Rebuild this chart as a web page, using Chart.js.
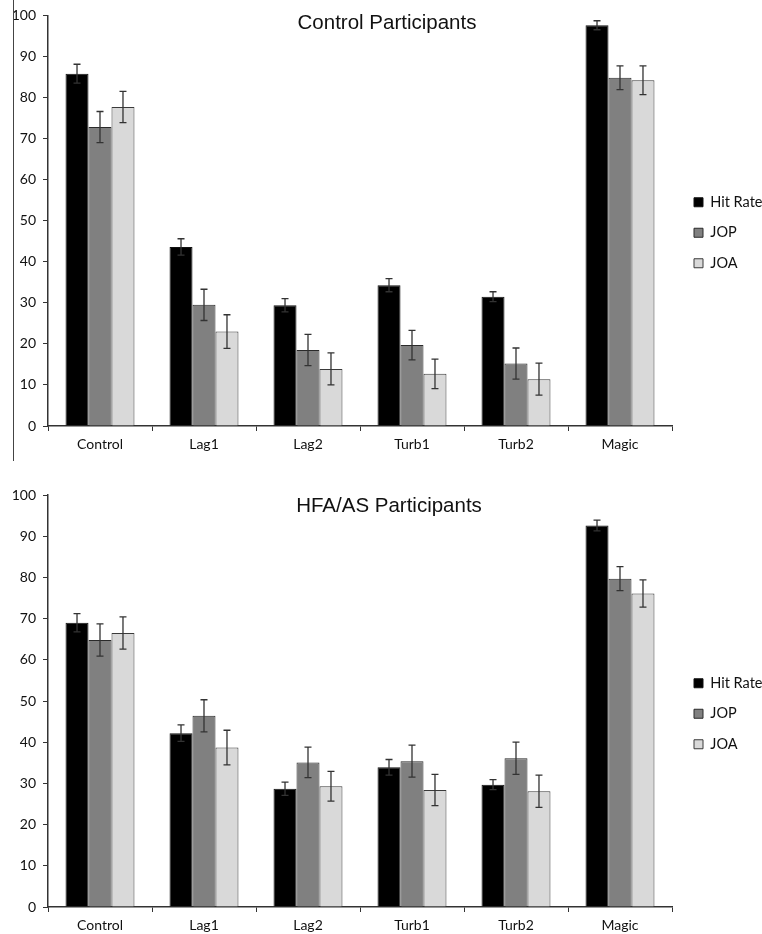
<!DOCTYPE html>
<html><head><meta charset="utf-8">
<script src="https://cdn.jsdelivr.net/npm/chart.js@4"></script>
<style>
html,body{margin:0;padding:0;background:#fff;}
body{width:762px;height:934px;position:relative;overflow:hidden;}
.box{position:absolute;left:0;width:762px;}
.title{position:absolute;font-family:"Liberation Sans",Arial,sans-serif;font-size:20.5px;color:#111;transform:translate(-50%,-50%);white-space:nowrap;}
.vline{position:absolute;left:13px;top:0;width:1px;height:461px;background:#444;}
</style></head><body>
<div class="box" style="top:0;height:462px"><canvas id="c1"></canvas></div>
<div class="box" style="top:462px;height:472px"><canvas id="c2"></canvas></div>
<div class="title" style="left:387px;top:22px">Control Participants</div>
<div class="title" style="left:389px;top:505px">HFA/AS Participants</div>
<div class="vline"></div>
<script>
const categories = ['Control','Lag1','Lag2','Turb1','Turb2','Magic'];
const seriesNames = ['Hit Rate','JOP','JOA'];
const yTicks = [0,10,20,30,40,50,60,70,80,90,100];

// Control participants
const ctrlHit    = [85.8, 43.6, 29.4, 34.3, 31.5, 97.6];
const ctrlJOP    = [72.8, 29.5, 18.5, 19.7, 15.2, 84.8];
const ctrlJOA    = [77.7, 23.0, 13.9, 12.7, 11.4, 84.2];
const ctrlHitErr = [2.3, 2.0, 1.6, 1.6, 1.2, 1.1];
const ctrlJOPErr = [3.8, 3.8, 3.8, 3.6, 3.8, 2.9];
const ctrlJOAErr = [3.8, 4.1, 3.9, 3.6, 3.9, 3.5];

// HFA/AS participants
const hfaHit    = [69.0, 42.2, 28.7, 33.9, 29.7, 92.6];
const hfaJOP    = [64.8, 46.4, 35.1, 35.4, 36.1, 79.7];
const hfaJOA    = [66.5, 38.7, 29.3, 28.4, 28.1, 76.1];
const hfaHitErr = [2.2, 2.0, 1.6, 1.9, 1.2, 1.3];
const hfaJOPErr = [3.9, 3.9, 3.7, 3.9, 3.9, 2.9];
const hfaJOAErr = [3.9, 4.2, 3.6, 3.8, 3.9, 3.3];

const fills = ['#000000', '#808080', '#d9d9d9'];
const borders = ['#111111', '#2a2a2a', '#3a3a3a'];

Chart.defaults.font.family = 'Lato, "Open Sans", sans-serif';
Chart.defaults.color = '#111';

const errorBarPlugin = {
  id: 'errorBars',
  afterDatasetsDraw(chart) {
    const ctx = chart.ctx;
    const yScale = chart.scales.y;
    ctx.save();
    ctx.strokeStyle = '#333';
    ctx.lineWidth = 1.3;
    chart.data.datasets.forEach((ds, i) => {
      const meta = chart.getDatasetMeta(i);
      meta.data.forEach((bar, j) => {
        const v = ds.data[j], e = ds.errors[j];
        const x = bar.x;
        const yT = yScale.getPixelForValue(v + e);
        const yB = yScale.getPixelForValue(v - e);
        const hw = 3.5;
        ctx.beginPath();
        ctx.moveTo(x, yT); ctx.lineTo(x, yB);
        ctx.moveTo(x - hw, yT); ctx.lineTo(x + hw, yT);
        ctx.moveTo(x - hw, yB); ctx.lineTo(x + hw, yB);
        ctx.stroke();
      });
    });
    ctx.restore();
  }
};

const legendShiftPlugin = {
  id: 'legendShift',
  afterLayout(chart, args, opts) {
    const L = chart.legend;
    if (!L) return;
    const pad = L.options.labels.padding;
    const dx = opts.x - (L.left + pad);
    const dy = opts.y - (L.top + pad + 7);
    L.left += dx; L.right += dx;
    L.top += dy; L.bottom += dy;
  }
};

function makeChart(id, series, errs, padTop, xHeight, legendY) {
  new Chart(document.getElementById(id), {
    type: 'bar',
    data: {
      labels: categories,
      datasets: series.map((d, i) => ({
        label: seriesNames[i],
        data: d,
        errors: errs[i],
        backgroundColor: fills[i],
        borderColor: borders[i],
        borderWidth: 1,
        barPercentage: 1.0,
        categoryPercentage: 0.663
      }))
    },
    options: {
      responsive: true,
      maintainAspectRatio: false,
      animation: false,
      devicePixelRatio: 1,
      layout: { padding: { top: padTop, right: 0, bottom: 0, left: 0 } },
      plugins: {
        title: { display: false },
        tooltip: { enabled: false },
        legend: {
          position: 'right',
          align: 'start',
          maxWidth: 90,
          labels: {
            boxWidth: 9, boxHeight: 9, padding: 16,
            color: '#111',
            font: { size: 14.5 }
          }
        },
        legendShift: { x: 694, y: legendY }
      },
      scales: {
        x: {
          afterFit: s => { s.height = xHeight; },
          grid: { display: true, drawOnChartArea: false, drawTicks: true, tickLength: 5, color: '#333', offset: true },
          border: { display: true, color: '#333', width: 1.5 },
          ticks: { font: { size: 14 }, color: '#111', padding: 5 }
        },
        y: {
          min: 0, max: 100,
          afterFit: s => { s.width = 48; },
          afterBuildTicks: s => { s.ticks = yTicks.map(v => ({ value: v })); },
          grid: { display: true, drawOnChartArea: false, drawTicks: true, tickLength: 5, color: '#333' },
          border: { display: true, color: '#333', width: 1.5 },
          ticks: { font: { size: 14 }, color: '#111', padding: 7 }
        }
      }
    },
    plugins: [errorBarPlugin, legendShiftPlugin]
  });
}

makeChart('c1', [ctrlHit, ctrlJOP, ctrlJOA], [ctrlHitErr, ctrlJOPErr, ctrlJOAErr], 15, 36, 202);
makeChart('c2', [hfaHit, hfaJOP, hfaJOA], [hfaHitErr, hfaJOPErr, hfaJOAErr], 33, 27, 221);
</script>
</body></html>
